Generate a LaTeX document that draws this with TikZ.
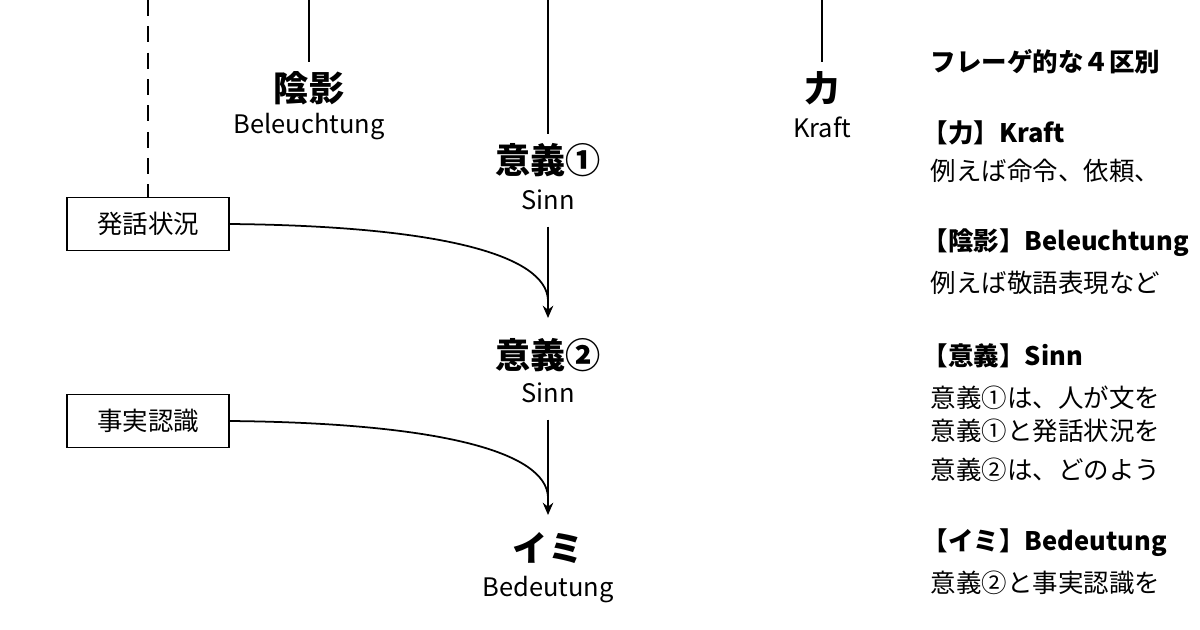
\documentclass[tikz,border=0pt]{standalone}
\usepackage{fontspec}
\setmainfont{Noto Sans CJK JP}
\usetikzlibrary{positioning,arrows.meta}
\tikzset{
	big/.style={font=\fontsize{20}{22}\selectfont\bfseries, inner sep=1pt},
	small/.style={font=\fontsize{14.5}{16}\selectfont, inner sep=1pt},
	srcbox/.style={draw, line width=0.8pt, minimum width=2.3cm*1.4, minimum height=1.07cm, font=\fontsize{14.5}{16}\selectfont, inner sep=2pt},
	note/.style={anchor=west, font=\fontsize{14.5}{16}\selectfont, inner sep=0pt},
	notehead/.style={note, font=\fontsize{14.5}{16}\selectfont\bfseries},
}
\begin{document}
\begin{tikzpicture}[x=0.02cm,y=-0.02cm,line width=1pt]
		\useasboundingbox (0,0) rectangle (1200,629);
		\clip (0,0) rectangle (1200,629);
		% left boxes
		\node[srcbox, minimum width=3.24cm] (sit) at (148,224) {発話状況};
		\node[srcbox, minimum width=3.24cm] (fact) at (148,421) {事実認識};
		% columns
		\node[big] (tone) at (309,88) {陰影};
		\node[small] (toneD) at (309,127) {Beleuchtung};
		\node[big] (sense1) at (548,160) {意義①};
		\node[small] (sinn1) at (548,200) {Sinn};
		\node[big] (sense2) at (548,355) {意義②};
		\node[small] (sinn2) at (548,393) {Sinn};
		\node[big] (ref) at (548,548) {イミ};
		\node[small] (refD) at (548,590) {Bedeutung};
		\node[big] (force) at (822,88) {力};
		\node[small] (forceD) at (822,127) {Kraft};
		\coordinate (top0) at (148,0);
		\coordinate (top1) at (309,0);
		\coordinate (top2) at (548,0);
		\coordinate (top3) at (822,0);
		\coordinate (in2) at (548,318);
		\coordinate (in3) at (548,515);
		%
		% vertical lines
		\draw[dashed, dash pattern=on 9pt off 6pt] (top0) -- (sit.north);
		\draw (top1) -- ([yshift=4pt]tone.north);
		\draw (top2) -- ([yshift=4pt]sense1.north);
		\draw (top3) -- ([yshift=4pt]force.north);
		% arrows
		\draw[-{Stealth[length=7pt,width=6pt]}] ([yshift=-8pt]sinn1.south) -- (in2);
		\draw[-{Stealth[length=7pt,width=6pt]}] ([yshift=-8pt]sinn2.south) -- (in3);
		\draw (sit.east) .. controls (440,226) and (546,255) .. (548,300);
		\draw (fact.east) .. controls (440,423) and (546,452) .. (548,497);
		% notes
		\node[notehead] (title) at (930,62) {フレーゲ的な４区別};
		\node[notehead] (h1) at (922,133) {【力】Kraft};
		\node[note] (t1) at (930,171) {例えば命令、依頼、};
		\node[notehead] (h2) at (922,243) {【陰影】Beleuchtung};
		\node[note] (t2) at (930,283) {例えば敬語表現など};
		\node[notehead] (h3) at (922,356) {【意義】Sinn};
		\node[note] (t3) at (930,398) {意義①は、人が文を};
		\node[note] (t4) at (930,431) {意義①と発話状況を};
		\node[note] (t5) at (930,470) {意義②は、どのよう};
		\node[notehead] (h4) at (922,543) {【イミ】Bedeutung};
		\node[note] (t6) at (930,583) {意義②と事実認識を};
\end{tikzpicture}
\end{document}
